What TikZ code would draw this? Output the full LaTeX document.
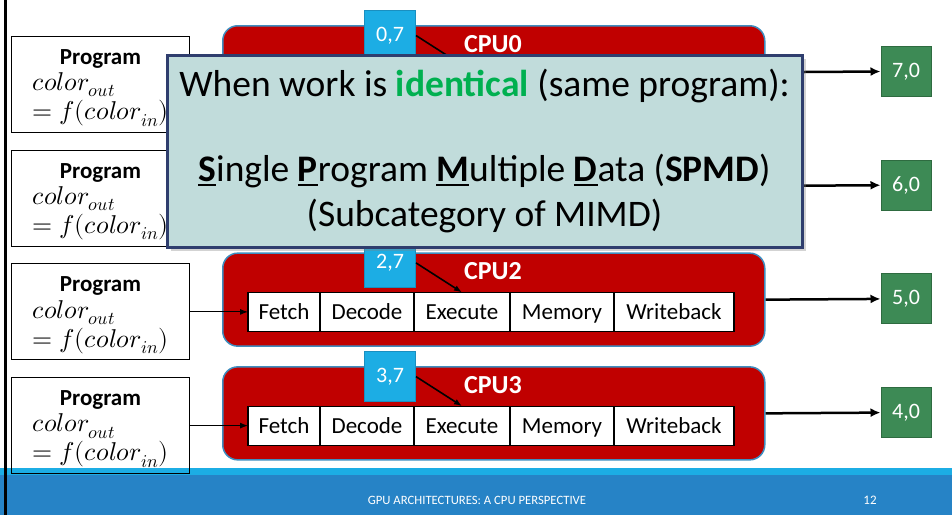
\documentclass[tikz,border=0pt]{standalone}
\usepackage{fontspec}
\usepackage{unicode-math}
\setmainfont{Carlito}
\setmathfont{Latin Modern Math}[Scale=1.12]
\usetikzlibrary{arrows.meta,positioning,shadows}
\definecolor{cpured}{HTML}{C00000}
\definecolor{cpuedge}{HTML}{3E8DBF}
\definecolor{tagblue}{HTML}{1CADE4}
\definecolor{tagedge}{HTML}{1A8FC0}
\definecolor{resgreen}{HTML}{3D8A55}
\definecolor{resedge}{HTML}{2E6B40}
\definecolor{notefill}{HTML}{C1DCDB}
\definecolor{noteedge}{HTML}{2F3E6E}
\definecolor{hilite}{HTML}{00B050}
\definecolor{barblue}{HTML}{2683C6}
% bold first letter with a heavy underline
\newcommand{\firstlet}[1]{\setbox0\hbox{\textbf{#1}}\rlap{\rule[-5pt]{\wd0}{2.6pt}}\box0}
\tikzset{
  progbox/.style  = {draw, line width=1pt, minimum width=178pt, minimum height=96pt,
                     inner ysep=0pt, anchor=north west, align=center,
                     font=\fontsize{23}{26}\selectfont},
  cpubox/.style   = {draw=cpuedge, line width=1.5pt, fill=cpured, rounded corners=15pt,
                     minimum width=542pt, minimum height=93pt, anchor=north west},
  stage/.style    = {draw, line width=1.2pt, fill=white, minimum height=39pt,
                     outer sep=0pt, inner sep=0pt, text height=19pt, text depth=4pt,
                     font=\fontsize{23}{26}\selectfont},
  tag/.style      = {draw=tagedge, fill=tagblue, line width=1pt, text=white,
                     minimum width=51pt, minimum height=50pt, anchor=north west,
                     font=\fontsize{22}{24}\selectfont},
  res/.style      = {draw=resedge, fill=resgreen, line width=1pt, text=white,
                     minimum size=50pt, font=\fontsize{22}{24}\selectfont},
  cpulabel/.style = {text=white, font=\fontsize{26}{28}\selectfont\bfseries},
  feed/.style     = {-{Latex[length=8pt,width=6pt]}, line width=1pt},
  wire/.style     = {-{Latex[length=10pt,width=9pt]}, line width=2.5pt},
  point/.style    = {-{Latex[length=8pt,width=6pt]}, line width=1.6pt},
  note/.style     = {draw=noteedge, line width=3pt, fill=notefill, minimum width=635pt,
                     minimum height=192pt, align=center, font=\fontsize{37.5}{45}\selectfont,
                     drop shadow={shadow xshift=4pt, shadow yshift=-4pt, opacity=0.35}},
}
\begin{document}
\begin{tikzpicture}[x=1pt,y=-1pt]
  \useasboundingbox (0,0) rectangle (952,515);
  % footer bar
  \fill[tagblue] (0,468) rectangle (952,475);
  \fill[barblue] (0,475) rectangle (952,515);
  \node[text=white, font=\fontsize{12.7}{14}\selectfont] (title) at (477,500)
    {GPU ARCHITECTURES: A CPU PERSPECTIVE};
  \node[text=white, font=\fontsize{13}{14}\selectfont] (page) at (870,500) {12};

  \foreach \i/\o in {0/7,1/6,2/5,3/4} {
    \pgfmathsetmacro\cy{25+113.7*\i}
    \node[progbox] (prog\i) at (11,\cy+11) {\rule{0pt}{23pt}\textbf{Program}\\[3pt]
      \begin{tabular}{@{}l@{}}$color_{out}$\\[2pt]$=f(color_{in})$\end{tabular}};
    \node[cpubox] (cpu\i) at (222,\cy) {};
    \node[cpulabel] (name\i) at (493,\cy+19) {CPU\i};
    \node[stage, minimum width=72pt, anchor=west] (fet\i) at (248,\cy+59.5) {Fetch};
    \node[stage, minimum width=94pt, right=0pt of fet\i] (dec\i) {Decode};
    \node[stage, minimum width=96pt, right=0pt of dec\i] (exe\i) {Execute};
    \node[stage, minimum width=104pt, right=0pt of exe\i] (mem\i) {Memory};
    \node[stage, minimum width=120pt, right=0pt of mem\i] (wb\i) {Writeback};
    \node[tag] (tag\i) at (364,\cy-15) {\i,7};
    \node[res] (res\i) at (906,\cy+46.5) {\o,0};
    \draw[feed] (prog\i.east) -- (fet\i.west);
    \draw[point] (tag\i.east) -- (exe\i.north);
    \draw[wire] (cpu\i.east) -- (res\i.west);
  }

  \node[note] (spmd) at (484.5,151)
    {When work is \textbf{\textcolor{hilite}{identical}} (same program):\\[40pt]
     \firstlet{S}ingle \firstlet{P}rogram \firstlet{M}ultiple \firstlet{D}ata (\textbf{SPMD})\\
     (Subcategory of MIMD)};

  \draw[line width=3pt] (5,0) -- (5,515);
\end{tikzpicture}
\end{document}
